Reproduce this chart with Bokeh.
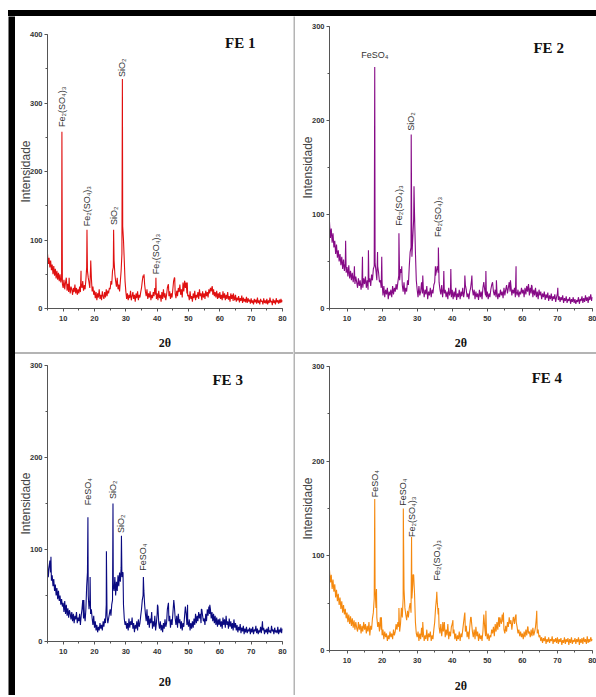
import numpy as np
from bokeh.plotting import figure
from bokeh.layouts import row, column
from bokeh.models import Range1d, SingleIntervalTicker, Label, Div
from bokeh.core.properties import value
from bokeh.embed import file_html
from bokeh.resources import INLINE

# ---------------- data ----------------
# background counts sampled every 0.25 deg of 2-theta, from 5.00 to 80.00
fe1_counts = [
    80, 65, 74, 60, 70, 56, 64, 50, 62, 48, 58, 44, 55, 42, 52, 40, 50, 38, 45, 36,
    30, 42, 28, 38, 45, 26, 36, 24, 34, 22, 32, 28, 20, 30, 24, 35, 22, 30, 20, 28,
    22, 32, 24, 36, 30, 40, 26, 34, 28, 42, 60, 55, 45, 38, 30, 60, 45, 25, 32, 20,
    26, 15, 24, 12, 22, 16, 28, 14, 20, 12, 25, 18, 14, 24, 16, 28, 18, 26, 22, 30,
    28, 40, 35, 55, 60, 70, 50, 40, 32, 45, 28, 35, 25, 40, 55, 80, 120, 100, 70, 40,
    25, 14, 22, 12, 20, 15, 26, 12, 18, 24, 14, 20, 10, 22, 15, 25, 12, 20, 16, 24,
    30, 40, 48, 45, 35, 25, 18, 28, 14, 22, 16, 25, 12, 20, 15, 24, 18, 30, 20, 14,
    22, 12, 26, 15, 20, 10, 24, 14, 28, 16, 22, 12, 20, 30, 35, 18, 25, 14, 22, 16,
    28, 40, 45, 22, 15, 26, 18, 30, 24, 35, 20, 28, 16, 38, 25, 40, 30, 38, 22, 18,
    20, 12, 25, 14, 18, 10, 22, 15, 26, 12, 20, 16, 24, 14, 28, 18, 22, 12, 25, 16,
    22, 14, 26, 18, 24, 16, 28, 22, 30, 25, 32, 20, 28, 18, 24, 16, 26, 14, 22, 15,
    24, 14, 20, 12, 25, 15, 22, 12, 20, 14, 24, 13, 18, 10, 22, 14, 20, 11, 18, 12,
    20, 10, 16, 12, 18, 9, 15, 11, 19, 8, 16, 10, 14, 9, 17, 8, 15, 10, 13, 7,
    15, 8, 12, 6, 14, 9, 13, 7, 16, 8, 12, 6, 14, 10, 11, 6, 15, 8, 12, 7,
    14, 6, 12, 8, 16, 9, 11, 5, 14, 8, 12, 6, 15, 9, 12, 7, 13, 8, 14, 9,
    12,
]
fe1_peak_pos = [9.6, 11.9, 15.7, 17.6, 18.8, 26.1, 28.9, 35.8, 39.6, 43.6, 45.6, 48.8, 49.6, 57.6, 64.3]
fe1_peak_int = [258, 45, 55, 115, 70, 115, 335, 50, 45, 35, 45, 40, 38, 32, 22]

fe2_counts = [
    92, 75, 85, 70, 80, 65, 72, 58, 68, 54, 62, 50, 58, 46, 55, 42, 52, 40, 48, 38,
    44, 34, 46, 32, 40, 30, 38, 28, 36, 26, 34, 28, 22, 32, 24, 30, 20, 28, 22, 32,
    26, 34, 22, 30, 20, 28, 32, 24, 36, 30, 42, 45, 48, 40, 30, 45, 38, 28, 30, 22,
    28, 14, 24, 12, 20, 15, 22, 10, 18, 14, 20, 12, 24, 15, 22, 18, 26, 20, 28, 35,
    30, 42, 38, 25, 18, 28, 15, 22, 18, 30, 25, 45, 60, 65, 55, 75, 95, 100, 60, 30,
    20, 12, 24, 14, 18, 28, 16, 22, 12, 20, 15, 24, 10, 18, 14, 22, 12, 20, 16, 25,
    28, 35, 40, 45, 38, 28, 20, 15, 25, 12, 22, 16, 20, 12, 18, 10, 22, 14, 18, 12,
    20, 10, 18, 12, 22, 9, 16, 12, 20, 10, 18, 13, 22, 12, 18, 25, 20, 12, 16, 10,
    18, 22, 30, 20, 14, 20, 10, 18, 12, 16, 9, 20, 12, 18, 10, 22, 28, 20, 14, 12,
    18, 10, 16, 12, 20, 25, 28, 18, 14, 20, 12, 18, 10, 16, 12, 20, 14, 18, 11, 22,
    14, 20, 25, 16, 22, 28, 18, 24, 14, 20, 16, 22, 12, 18, 14, 20, 12, 18, 15, 22,
    16, 20, 12, 22, 15, 24, 18, 26, 14, 22, 16, 24, 12, 20, 14, 22, 12, 18, 10, 20,
    14, 18, 10, 16, 12, 18, 9, 15, 11, 17, 8, 14, 10, 16, 8, 13, 10, 15, 7, 12,
    16, 9, 13, 7, 12, 9, 14, 6, 11, 8, 13, 6, 10, 8, 12, 5, 10, 7, 12, 6,
    10, 5, 9, 7, 12, 5, 10, 8, 13, 6, 11, 7, 14, 8, 12, 6, 13, 9, 15, 8,
    12,
]
fe2_peak_pos = [9.6, 12.1, 14.4, 16.1, 17.9, 18.7, 19.9, 24.8, 25.6, 28.3, 29.1, 31.6, 35.2, 36.05,
                37.6, 39.6, 43.6, 45.6, 49.6, 52.6, 56.6, 58.2, 62.6, 70.1]
fe2_peak_int = [72, 45, 55, 62, 257, 60, 55, 80, 45, 185, 130, 35, 45, 65,
                40, 42, 35, 35, 40, 30, 30, 45, 25, 22]

fe3_counts = [
    85, 70, 80, 88, 75, 66, 72, 60, 68, 55, 62, 50, 58, 46, 55, 44, 50, 40, 46, 38,
    42, 32, 44, 30, 40, 28, 36, 26, 34, 30, 24, 32, 22, 30, 20, 28, 24, 32, 20, 26,
    22, 30, 18, 28, 35, 45, 25, 30, 22, 35, 60, 75, 50, 35, 45, 30, 35, 25, 18, 28,
    15, 22, 12, 18, 10, 16, 12, 20, 14, 18, 12, 22, 16, 25, 20, 40, 28, 20, 25, 30,
    35, 28, 40, 45, 60, 55, 70, 50, 65, 55, 72, 60, 75, 65, 80, 70, 75, 40, 25, 18,
    22, 14, 20, 12, 25, 15, 22, 18, 26, 14, 20, 10, 18, 14, 22, 12, 24, 16, 20, 28,
    35, 45, 50, 55, 40, 30, 22, 35, 18, 28, 15, 25, 20, 32, 14, 22, 16, 28, 12, 20,
    30, 38, 20, 14, 22, 12, 18, 10, 20, 14, 24, 16, 20, 35, 40, 22, 28, 15, 24, 18,
    30, 42, 38, 25, 18, 28, 15, 30, 20, 24, 14, 22, 12, 20, 16, 28, 38, 30, 18, 22,
    16, 24, 12, 20, 14, 22, 15, 25, 18, 30, 20, 28, 22, 32, 25, 30, 20, 35, 28, 22,
    25, 18, 30, 22, 35, 28, 38, 30, 35, 25, 32, 22, 30, 20, 28, 18, 26, 16, 24, 18,
    25, 16, 22, 14, 26, 18, 24, 15, 28, 18, 22, 14, 25, 16, 22, 14, 20, 12, 24, 15,
    20, 12, 18, 10, 16, 12, 19, 9, 15, 11, 17, 8, 14, 10, 16, 9, 13, 11, 15, 8,
    14, 10, 16, 8, 13, 11, 17, 9, 14, 8, 12, 10, 16, 9, 18, 12, 15, 8, 13, 10,
    14, 8, 16, 10, 12, 9, 17, 11, 13, 8, 15, 10, 12, 9, 16, 8, 13, 10, 15, 9,
    14,
]
fe3_peak_pos = [6.1, 16.6, 17.9, 18.6, 23.8, 25.9, 28.6, 29.1, 35.6, 40.1, 43.6, 45.3, 49.7, 54.1, 56.8, 73.6]
fe3_peak_int = [92, 45, 135, 70, 98, 150, 115, 75, 70, 40, 42, 45, 40, 35, 40, 22]

fe4_counts = [
    85, 72, 80, 65, 75, 62, 70, 56, 64, 52, 60, 48, 56, 44, 52, 40, 48, 38, 44, 34,
    40, 30, 38, 28, 36, 26, 34, 24, 32, 22, 30, 24, 20, 30, 22, 28, 18, 26, 20, 30,
    22, 28, 18, 26, 20, 30, 16, 26, 22, 34, 40, 55, 65, 45, 35, 25, 30, 20, 35, 22,
    16, 22, 12, 20, 14, 18, 10, 16, 12, 20, 14, 18, 12, 22, 16, 20, 28, 22, 30, 25,
    20, 28, 45, 35, 55, 65, 45, 38, 32, 42, 35, 45, 50, 40, 55, 70, 80, 60, 30, 18,
    14, 20, 10, 18, 12, 24, 14, 20, 10, 16, 12, 22, 10, 18, 14, 20, 10, 16, 12, 22,
    30, 45, 55, 50, 38, 25, 18, 28, 15, 25, 20, 30, 14, 22, 16, 28, 12, 20, 15, 25,
    28, 18, 22, 12, 18, 10, 16, 12, 20, 10, 18, 14, 22, 30, 38, 20, 26, 14, 20, 12,
    25, 35, 30, 20, 14, 22, 12, 25, 15, 20, 10, 18, 12, 16, 10, 20, 38, 25, 15, 20,
    12, 18, 10, 16, 14, 22, 18, 25, 15, 28, 20, 30, 22, 35, 25, 32, 28, 38, 30, 22,
    18, 26, 20, 30, 25, 35, 28, 32, 22, 30, 35, 28, 36, 30, 25, 18, 22, 15, 20, 14,
    18, 12, 20, 14, 22, 16, 25, 18, 20, 14, 22, 15, 24, 16, 20, 25, 35, 18, 22, 14,
    16, 10, 14, 8, 13, 10, 15, 7, 12, 9, 14, 8, 12, 10, 15, 7, 12, 9, 13, 8,
    14, 7, 12, 9, 13, 6, 11, 8, 14, 7, 12, 9, 13, 6, 12, 8, 14, 7, 11, 9,
    13, 7, 12, 9, 14, 6, 12, 8, 13, 7, 14, 9, 12, 7, 15, 8, 12, 9, 14, 10,
    12,
]
fe4_peak_pos = [17.9, 18.4, 19.8, 24.8, 26.05, 28.4, 28.8, 31.6, 35.6, 36.1, 37.3, 40.2, 43.6, 45.4,
                49.6, 53.6, 54.6, 57.4, 58.2, 61.6, 64.1]
fe4_peak_int = [160, 65, 35, 45, 150, 120, 80, 30, 62, 45, 30, 32, 40, 35,
                42, 35, 40, 35, 38, 25, 42]

# phase labels: text, 2-theta, intensity where the label starts
fe1_lab_text = ["Fe\u2082(SO\u2084)\u2083", "Fe\u2082(SO\u2084)\u2083", "SiO\u2082", "SiO\u2082", "Fe\u2082(SO\u2084)\u2083"]
fe1_lab_x = [9.6, 17.6, 26.1, 28.9, 39.6]
fe1_lab_y = [265, 120, 122, 338, 50]

fe2_lab_text = ["FeSO\u2084", "Fe\u2082(SO\u2084)\u2083", "SiO\u2082", "Fe\u2082(SO\u2084)\u2083"]
fe2_lab_x = [17.9, 24.8, 28.3, 36.05]
fe2_lab_y = [264, 88, 189, 76]
fe2_lab_vertical = [False, True, True, True]

fe3_lab_text = ["FeSO\u2084", "SiO\u2082", "SiO\u2082", "FeSO\u2084"]
fe3_lab_x = [17.9, 25.9, 28.6, 35.6]
fe3_lab_y = [148, 155, 118, 77]

fe4_lab_text = ["FeSO\u2084", "FeSO\u2084", "Fe\u2082(SO\u2084)\u2083", "Fe\u2082(SO\u2084)\u2083"]
fe4_lab_x = [17.9, 26.05, 28.4, 35.6]
fe4_lab_y = [162, 153, 120, 74]

panel_titles = ["FE 1", "FE 2", "FE 3", "FE 4"]
x_label = "2\u03b8"
y_label = "Intensidade"


def merged(counts, ppos, pint):
    grid = 5.0 + 0.25 * np.arange(len(counts))
    xs = np.concatenate([grid, np.asarray(ppos, float)])
    ys = np.concatenate([np.asarray(counts, float), np.asarray(pint, float)])
    order = np.argsort(xs, kind="stable")
    return xs[order], ys[order]


def make_panel(title, counts, ppos, pint, color, ymax, w, h, bl, br, bt, bb,
               title_x, title_y, xlab_standoff,
               lab_text, lab_x, lab_y, vertical=None):
    p = figure(width=w, height=h, output_backend="svg", toolbar_location=None,
               x_range=Range1d(5, 80), y_range=Range1d(0, ymax),
               min_border_left=bl, min_border_right=br, min_border_top=bt, min_border_bottom=bb)
    p.border_fill_color = "white"
    p.outline_line_color = None
    p.xgrid.visible = False
    p.ygrid.visible = False
    xs, ys = merged(counts, ppos, pint)
    p.line(xs, ys, line_color=color, line_width=1.1)

    p.xaxis.ticker = SingleIntervalTicker(interval=10, num_minor_ticks=2)
    p.yaxis.ticker = SingleIntervalTicker(interval=100, num_minor_ticks=2)
    for ax in (p.xaxis[0], p.yaxis[0]):
        ax.axis_line_color = "#555555"
        ax.major_tick_line_color = "#555555"
        ax.minor_tick_line_color = "#555555"
        ax.major_tick_out = 3
        ax.major_tick_in = 0
        ax.minor_tick_out = 2
        ax.minor_tick_in = 0
        ax.major_label_text_font = "Liberation Sans"
        ax.major_label_text_font_size = "7.5px"
        ax.major_label_text_font_style = "bold"
        ax.major_label_text_color = "#333333"
        ax.major_label_standoff = 2
    p.xaxis.major_label_standoff = 4
    p.xaxis.axis_label = x_label
    p.xaxis.axis_label_text_font = "Liberation Serif"
    p.xaxis.axis_label_text_font_style = "bold"
    p.xaxis.axis_label_text_font_size = "12px"
    p.xaxis.axis_label_text_color = "#111111"
    p.xaxis.axis_label_standoff = xlab_standoff
    p.yaxis.axis_label = y_label
    p.yaxis.axis_label_text_font = "Liberation Sans"
    p.yaxis.axis_label_text_font_style = "normal"
    p.yaxis.axis_label_text_font_size = "12px"
    p.yaxis.axis_label_text_color = "#444444"
    p.yaxis.axis_label_standoff = -6

    if vertical is None:
        vertical = [True] * len(lab_text)
    vx = [x for x, v in zip(lab_x, vertical) if v]
    vy = [y for y, v in zip(lab_y, vertical) if v]
    vt = [t for t, v in zip(lab_text, vertical) if v]
    hx = [x for x, v in zip(lab_x, vertical) if not v]
    hy = [y for y, v in zip(lab_y, vertical) if not v]
    ht = [t for t, v in zip(lab_text, vertical) if not v]
    if vt:
        p.text(x=vx, y=vy, text=vt, angle=90, angle_units="deg",
               text_align="left", text_baseline="middle",
               text_font=value("Liberation Sans"), text_font_size="9px", text_color="#333333")
    if ht:
        p.text(x=hx, y=hy, text=ht, text_align="center", text_baseline="bottom",
               text_font=value("Liberation Sans"), text_font_size="9px", text_color="#333333")

    p.add_layout(Label(x=title_x, y=title_y, text=title, text_align="center", text_baseline="middle",
                       text_font="Liberation Serif", text_font_style="bold", text_font_size="15px",
                       text_color="#111111"))
    return p


# left column: x 15..293 ; right column: x 295..596 ; top row y 16..352 ; bottom row y 354..695
p1 = make_panel(panel_titles[0], fe1_counts, fe1_peak_pos, fe1_peak_int, "#e01010", 400,
                278, 336, 30, 11, 18, 40, 66.5, 388, 12,
                fe1_lab_text, fe1_lab_x, fe1_lab_y)
p2 = make_panel(panel_titles[1], fe2_counts, fe2_peak_pos, fe2_peak_int, "#860a86", 300,
                301, 336, 34, 4, 10, 41, 67.5, 277, 12,
                fe2_lab_text, fe2_lab_x, fe2_lab_y, fe2_lab_vertical)
p3 = make_panel(panel_titles[2], fe3_counts, fe3_peak_pos, fe3_peak_int, "#0a0a80", 300,
                278, 341, 30, 6, 11, 54, 62.5, 284, 18,
                fe3_lab_text, fe3_lab_x, fe3_lab_y)
p4 = make_panel(panel_titles[3], fe4_counts, fe4_peak_pos, fe4_peak_int, "#f5890f", 300,
                301, 341, 31, 3, 12, 45, 67.0, 288, 13,
                fe4_lab_text, fe4_lab_x, fe4_lab_y)


def vbar(w, h, color):
    # tall frame pieces: an empty figure painted in one colour
    b = figure(width=w, height=h, output_backend="svg", toolbar_location=None,
               x_range=Range1d(0, 1), y_range=Range1d(0, 1),
               x_axis_type=None, y_axis_type=None,
               min_border=0, min_border_left=0, min_border_right=0,
               min_border_top=0, min_border_bottom=0)
    b.background_fill_color = color
    b.border_fill_color = color
    b.outline_line_color = None
    b.xgrid.visible = False
    b.ygrid.visible = False
    return b


def hbar(w, h, color):
    # thin horizontal frame pieces
    return Div(text="", width=w, height=h, margin=0, styles={"background-color": color})


top_row = row(vbar(8, 10, "white"), vbar(588, 10, "white"))
black_row = row(hbar(8, 6, "white"), hbar(588, 6, "black"))
main_row = row(vbar(8, 679, "white"), vbar(7, 679, "black"),
               column(p1, hbar(278, 2, "#b4b4b4"), p3),
               vbar(2, 679, "#b4b4b4"),
               column(p2, hbar(301, 2, "#b4b4b4"), p4))

layout = column(top_row, black_row, main_row)

open("out.html", "w").write(file_html(layout, INLINE))
